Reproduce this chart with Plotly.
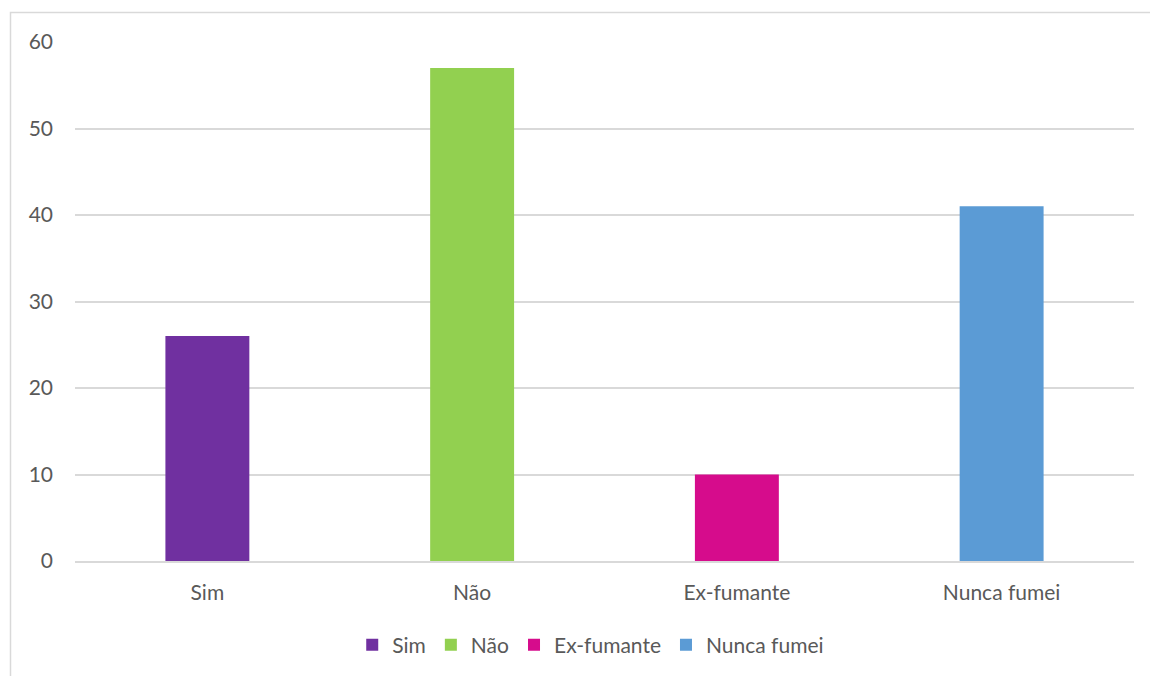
import plotly.graph_objects as go

categories = ["Sim", "Não", "Ex-fumante", "Nunca fumei"]
values = [26, 57, 10, 41]
colors = ["#7030A0", "#92D050", "#D60C8C", "#5B9BD5"]
y_ticks = [0, 10, 20, 30, 40, 50, 60]

fig = go.Figure()
for cat, val, col in zip(categories, values, colors):
    fig.add_trace(go.Bar(x=[cat], y=[val], name=cat, marker=dict(color=col, line=dict(width=0))))

font_color = "#595959"
fs = 21
fig.update_layout(
    width=1150, height=676,
    margin=dict(l=75, r=16, t=42, b=114),
    paper_bgcolor="white", plot_bgcolor="white",
    barmode="overlay", bargap=0.683,
    font=dict(family="Lato, Open Sans, sans-serif", size=fs, color=font_color),
    showlegend=True,
    legend=dict(orientation="h", x=0.487, xanchor="center", y=-0.16, yanchor="middle",
                font=dict(size=fs, color=font_color), itemclick=False, tracegroupgap=0),
    xaxis=dict(categoryorder="array", categoryarray=categories, showgrid=False,
               showline=True, linecolor="#d9d9d9", linewidth=1.5, ticks="",
               ticklabelstandoff=12,
               tickfont=dict(size=fs, color=font_color), fixedrange=True),
    yaxis=dict(range=[0, 60], tickvals=y_ticks, showgrid=True, gridcolor="#d9d9d9",
               gridwidth=1.5, zeroline=False, showline=False, ticks="",
               ticklabelstandoff=21, tickfont=dict(size=fs, color=font_color), fixedrange=True),
    shapes=[dict(type="rect", xref="paper", yref="paper",
                 x0=(10.5 - 75) / 1059, x1=1.2, y0=-0.5, y1=1 + (42 - 12.5) / 520,
                 line=dict(color="#d9d9d9", width=1.5), fillcolor="rgba(0,0,0,0)", layer="below")],
)

fig.write_html("out.html")
